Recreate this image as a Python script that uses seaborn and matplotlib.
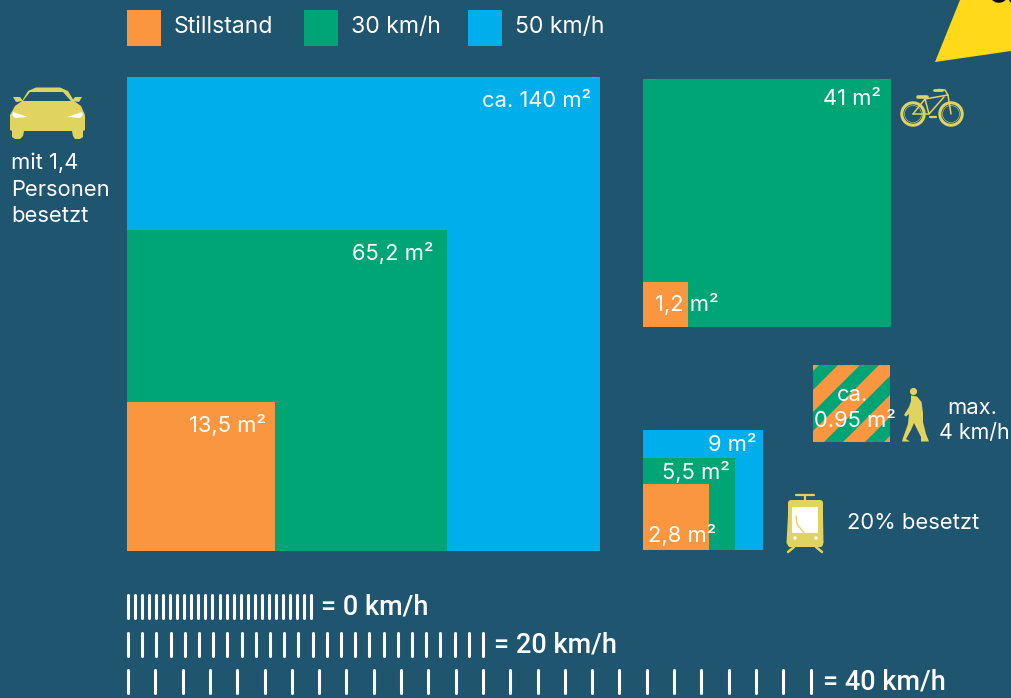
import numpy as np
import matplotlib
matplotlib.use("Agg")
import matplotlib.pyplot as plt
from matplotlib.patches import Polygon, Circle, Rectangle, FancyBboxPatch
import seaborn as sns

BG = "#20556F"
ORANGE, GREEN, BLUE = "#FB9640", "#00A576", "#00AEEC"
YELLOW = "#FFD91A"
ICON = "#E0D35F"

sns.set_theme(style="white")
plt.rcParams["font.family"] = ["Inter", "DejaVu Sans"]

# Square edge lengths in picture units, with their printed areas
car_sizes = [473.5, 320.5, 148.5]
car_labels = ["ca. 140 m²", "65,2 m²", "13,5 m²"]
bike_sizes = [248, 45]
bike_labels = ["41 m²", "1,2 m²"]
tram_sizes = [120, 92, 66]
tram_labels = ["9 m²", "5,5 m²", "2,8 m²"]
walk_size = 77
legend_names = ["Stillstand", "30 km/h", "50 km/h"]
speed_names = ["= 0 km/h", "= 20 km/h", "= 40 km/h"]
speed_gaps = [7.04, 14.2, 27.3]
speed_counts = [27, 26, 26]

fig = plt.figure(figsize=(10.11, 6.98), dpi=100, facecolor=BG)
ax = fig.add_axes([0, 0, 1, 1], facecolor=BG)
ax.set_xlim(0, 1011)
ax.set_ylim(698, 0)
ax.axis("off")


def squares(left, base, sizes, colors):
    for s, c in zip(sizes, colors):
        ax.bar(left, s, width=s, bottom=base - s, align="edge", color=c, linewidth=0)


def T(x, y, s, size=15.8, ha="left", va="center", color="white", **kw):
    return ax.text(x, y, s, fontsize=size, ha=ha, va=va, color=color, **kw)


# Legend
for x, c, name, tx in zip([127, 304, 468], [ORANGE, GREEN, BLUE], legend_names, [174, 351, 515]):
    ax.add_patch(Rectangle((x, 10), 34, 36, color=c, lw=0))
    T(tx, 27, name, 16.6)

# Car
squares(126.8, 550.8, car_sizes, [BLUE, GREEN, ORANGE])
T(591, 101, car_labels[0], ha="right")
T(433, 253, car_labels[1], ha="right")
T(266, 425, car_labels[2], ha="right")

# Bike
squares(643, 327, bike_sizes, [GREEN, ORANGE])
T(881, 99, bike_labels[0], ha="right")
T(655, 304, bike_labels[1])

# Tram
squares(643, 550, tram_sizes, [BLUE, GREEN, ORANGE])
T(757, 445, tram_labels[0], ha="right")
T(730, 472, tram_labels[1], ha="right")
T(648, 535, tram_labels[2])

# Pedestrian square, striped
px, py = 813, 365
box = Rectangle((px, py), walk_size, walk_size, color=ORANGE, lw=0, zorder=2)
ax.add_patch(box)
for start in [6, 47, 88, 129]:
    w = 19
    st = Polygon([(px + start, py), (px + start + w, py),
                  (px + start + w - 160, py + 160), (px + start - 160, py + 160)],
                 color=GREEN, lw=0, zorder=3)
    ax.add_patch(st)
    st.set_clip_path(box)
T(852, 395, "ca.", ha="center", zorder=5)
T(855, 421, "0.95 m²", ha="center", zorder=5)
T(972, 408, "max.", ha="center")
T(974, 433, "4 km/h", size=15.4, ha="center")
T(847, 523, "20% besetzt")

# Car caption
T(11, 163, "mit 1,4")
T(11, 190, "Personen")
T(11, 216, "besetzt")

# Corner flag
ax.add_patch(Polygon([(935, 62), (960, 0), (1011, 0), (1011, 51)], color=YELLOW, lw=0))
T(988, 5, "30", 20, va="baseline", color="black", rotation=-5, clip_on=True, fontweight="bold")

# Car icon
ax.add_patch(Polygon([(10, 115), (15, 106), (22, 101), (28, 91), (36, 87.5), (60, 87.5),
                      (68, 91), (74, 101), (81, 106), (85, 115), (85, 130), (83, 131),
                      (83, 137), (80, 139), (75, 139), (73, 136), (72, 131), (24, 131),
                      (23, 136), (20, 139), (15, 139), (12, 137), (12, 131), (10, 130)],
                     color=ICON, lw=0))
ax.add_patch(Polygon([(23, 101), (30, 92), (63, 92), (71, 101)], color=BG, lw=0))
ax.add_patch(Polygon([(13, 97), (20, 97), (23, 101), (16, 102)], color=ICON, lw=0))
ax.add_patch(Polygon([(82, 97), (75, 97), (72, 101), (79, 102)], color=ICON, lw=0))
ax.add_patch(Polygon([(13, 112), (28, 117), (15, 118), (12, 115)], color="white", lw=0))
ax.add_patch(Polygon([(82, 112), (67, 117), (80, 118), (83, 115)], color="white", lw=0))

# Bike icon
for cx in [913, 951]:
    ax.add_patch(Circle((cx, 114), 11.2, fill=False, ec=ICON, lw=2.2))
    ax.add_patch(Circle((cx, 114), 8.5, fill=False, ec=ICON, lw=0.4))
for seg in [[(913, 114), (925, 99), (948, 95), (951, 114)],
            [(925, 99), (929, 114), (944, 97)],
            [(913, 114), (929, 114)],
            [(948, 95), (945, 90), (938, 89.5)]]:
    ax.plot(*zip(*seg), color=ICON, lw=1.1, solid_capstyle="round")
ax.plot([918, 927], [96.5, 96.5], color=ICON, lw=2.6, solid_capstyle="round")
ax.plot([934, 942], [90, 90], color=ICON, lw=2.0, solid_capstyle="round")
ax.plot([930, 936], [117, 117], color=ICON, lw=1.6)

# Walker icon
ax.add_patch(Circle((913.5, 391.5), 3.6, color=ICON, lw=0))
ax.add_patch(Polygon([(911, 395.5), (917, 396.5), (921.5, 402), (923, 413), (923, 422),
                      (926, 434), (929, 441.5), (921, 441.5), (921, 437), (914, 423),
                      (911, 430), (906, 439), (910, 441.5), (902, 441.5), (903, 438),
                      (908, 424), (909, 414), (906, 416.5), (904, 415), (909, 407), (911, 401)],
                     color=ICON, lw=0))

# Tram icon
ax.add_patch(FancyBboxPatch((788, 500), 35, 47, boxstyle="round,pad=0,rounding_size=3", color=ICON, lw=0))
ax.add_patch(Polygon([(788, 515), (823, 515), (823.5, 543), (821, 547), (789, 547), (786.5, 543)], color=ICON, lw=0))
ax.add_patch(Rectangle((792, 507), 26, 26, color="white", lw=0))
ax.plot([796, 797, 804], [516, 524, 533], color=ICON, lw=1)
ax.add_patch(Circle((795, 538), 1.7, color="white", lw=0))
ax.add_patch(Circle((816, 538), 1.7, color="white", lw=0))
ax.plot([796, 814], [495, 495], color=ICON, lw=1.6)
ax.plot([805, 805], [495, 501], color=ICON, lw=1.6)
ax.plot([794, 788], [547, 552], color=ICON, lw=1.8)
ax.plot([816, 822], [547, 552], color=ICON, lw=1.8)

# Reaction-distance rows
for gap, n, y0, y1, label, tx in zip(speed_gaps, speed_counts, [595, 633, 670], [618, 656, 693],
                                     speed_names, [321, 494, 823]):
    xs = 128 + gap * np.arange(n)
    ax.vlines(xs, y0, y1, color="white", lw=2.2, capstyle="round")
    ax.text(tx, (y0 + y1) / 2 + 0.5, label, color="white", fontsize=19.5, ha="left", va="center",
            family="Roboto", fontweight="medium")

fig.savefig("out.png", dpi=100, facecolor=BG)
